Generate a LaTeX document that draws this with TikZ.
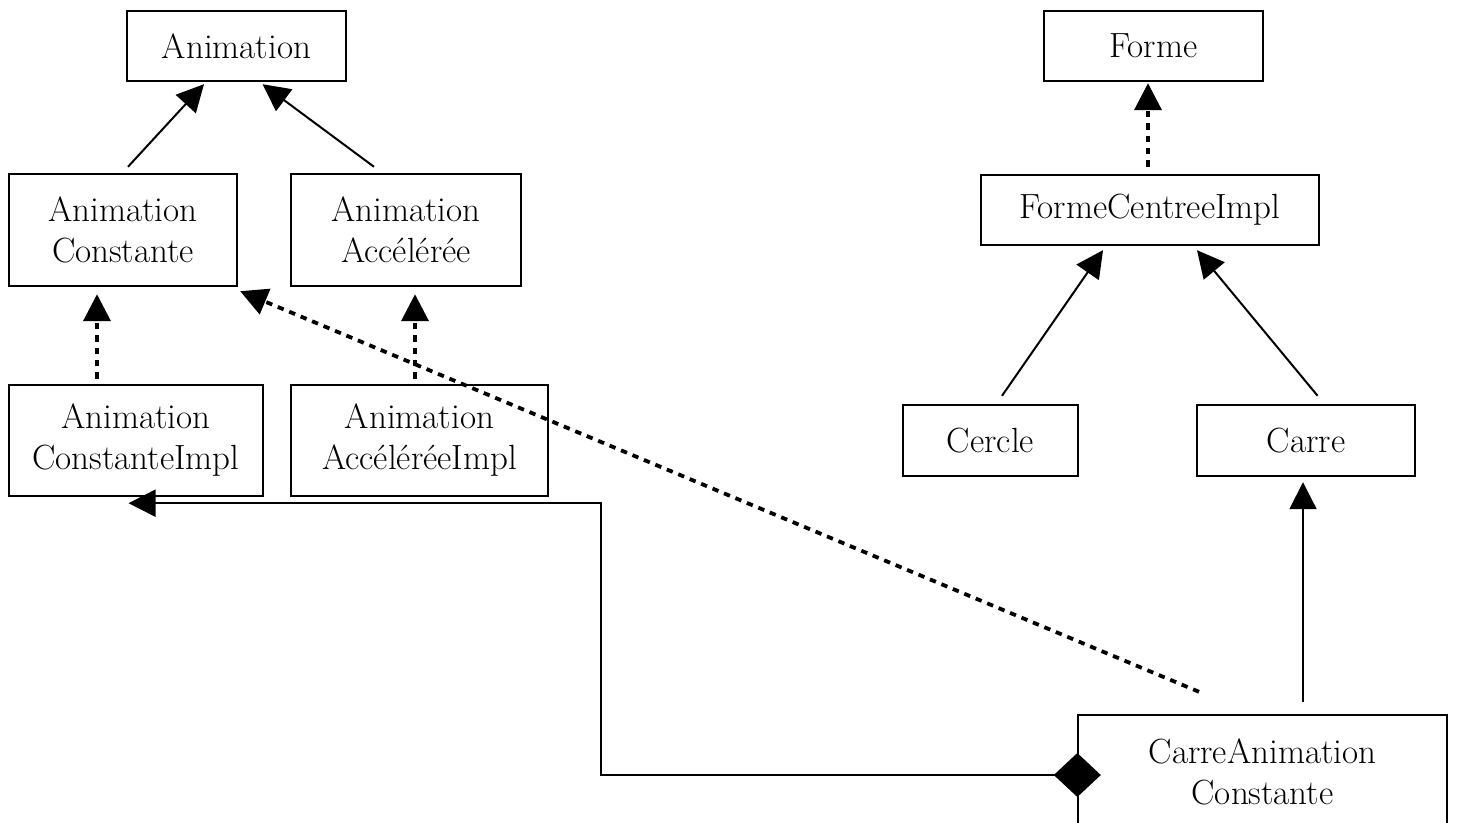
\documentclass[tikz,border=0pt]{standalone}
\usetikzlibrary{arrows.meta}
\tikzset{
  cls/.style={draw, line width=1.2pt, inner sep=0pt, align=center,
    font=\fontsize{17.5}{20.5}\selectfont},
  tipT/.style={-{Triangle[length=13.5pt,width=13.5pt]}},
  inh/.style={tipT, line width=1pt},
  real/.style={tipT, line width=1.9pt, dash pattern=on 3.2pt off 3pt},
  agg/.style={{Diamond[length=23.5pt,width=22pt]}-{Triangle[length=13.5pt,width=13.5pt]}, line width=1pt, miter limit=10}
}
\begin{document}
\begin{tikzpicture}[x=0.5pt,y=-0.5pt]
\useasboundingbox (0,0) rectangle (1459,823);
\clip (0,0) rectangle (1459,823);
% classes
\node[cls, minimum width=109.5pt, minimum height=35pt] (anim) at (236.5,46) {Animation};
\node[cls, minimum width=114pt, minimum height=56pt] (ac) at (123,230) {Animation\\Constante};
\node[cls, minimum width=115pt, minimum height=56pt] (aa) at (406,230) {Animation\\Accélérée};
\node[cls, minimum width=127pt, minimum height=55.5pt] (aci) at (136,440.5) {Animation\\ConstanteImpl};
\node[cls, minimum width=128.5pt, minimum height=55.5pt] (aai) at (419.5,440.5) {Animation\\AccéléréeImpl};
\node[cls, minimum width=109.5pt, minimum height=35pt] (forme) at (1153.5,46) {Forme};
\node[cls, minimum width=169pt, minimum height=35pt] (fci) at (1150,210) {FormeCentreeImpl};
\node[cls, minimum width=87.5pt, minimum height=35.5pt] (cercle) at (990.5,440.5) {Cercle};
\node[cls, minimum width=109pt, minimum height=35.5pt] (carre) at (1306,440.5) {Carre};
\node[cls, minimum width=184.5pt, minimum height=56.5pt] (ca) at (1262.5,771.5) {CarreAnimation\\Constante};
% inheritance
\draw[inh] ([shift={(5,-6)}]ac.north) -- ([shift={(-32.5,2)}]anim.south);
\draw[inh] ([shift={(-32,-6)}]aa.north) -- ([shift={(26,2)}]anim.south);
\draw[inh] ([shift={(11.5,-8)}]cercle.north) -- ([shift={(-47,4)}]fci.south);
\draw[inh] ([shift={(11.6,-8)}]carre.north) -- ([shift={(47,4)}]fci.south);
\draw[inh] ([shift={(40.5,-12)}]ca.north) -- ([shift={(-3,5)}]carre.south);
% realization
\draw[real] ([shift={(-39,-5)}]aci.north) -- ([shift={(-26,7)}]ac.south);
\draw[real] ([shift={(-4.5,-5)}]aai.north) -- ([shift={(9,7)}]aa.south);
\draw[real] ([shift={(-2,-7)}]fci.north) -- ([shift={(-5.5,1)}]forme.south);
\draw[real] ([shift={(-63.5,-22)}]ca.north) -- ([shift={(2,4)}]ac.south east);
% aggregation
\draw[agg] ([shift={(24,3.5)}]ca.west) -- ++(-500,0) |- ([shift={(-7.5,6)}]aci.south);
\end{tikzpicture}
\end{document}
